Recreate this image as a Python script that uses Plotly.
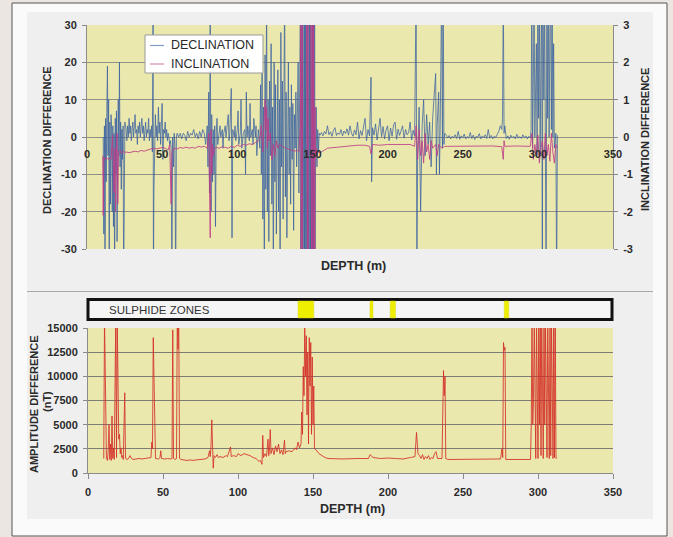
import plotly.graph_objects as go

W, H = 673, 537

# ---------------- data ----------------
# declination difference (depth m, value) - left axis
DECLINATION = [
    (10.8, 0), (11.2, -26), (11.6, 3), (12.0, -40), (12.4, 5), (12.8, -12), (13.2, 8), (13.6, 19),
    (14.0, -5), (14.4, 10), (14.8, -40), (15.2, 4), (15.6, -18), (16.0, 6), (16.4, 2), (16.8, -20),
    (17.2, 3), (17.6, -24), (18.0, 1), (18.4, -40), (18.8, 5), (19.2, -10), (19.6, 7), (20.0, -28),
    (20.4, 2), (20.8, 10), (21.2, -5), (21.6, 20), (22.0, -8), (22.4, 4), (22.8, -14), (23.2, 2),
    (23.6, -6), (24.0, 3), (24.4, -40), (24.8, 1), (25.2, 4),
    (26, 2), (26.5, -1), (27, 3), (27.5, 0), (28, 5), (28.5, 1), (29, 3), (29.5, -1), (30, 2),
    (30.5, 4), (31, 0), (31.5, 3), (32, 6), (32.5, 1), (33, 2), (33.5, -2), (34, 3), (34.5, 1),
    (35, 4), (35.5, 0), (36, 2), (36.5, 5), (37, 1), (37.5, 3), (38, -1), (38.5, 2), (39, 4),
    (39.5, 0), (40, 2), (40.5, 1), (41, 5), (41.5, -1), (42, 2), (42.5, 0), (43, 3), (43.5, -4),
    (44, 40), (44.2, -40), (44.5, -15), (45, 2), (45.5, 6), (46, 0), (46.5, 3), (47, -1), (47.5, 8),
    (48, 1), (48.5, 4), (49, -2), (49.5, 3), (50, 9), (50.5, -6), (51, 2), (51.5, 1), (52, 4),
    (52.5, 0), (53, 2), (53.5, -1), (54, 1), (54.5, 0), (55, -2), (55.5, -1), (56, -3), (56.5, -40),
    (57, 0), (57.5, -8), (58, 1), (58.5, -2), (59, -40), (59.5, 0), (60, 1),
    (61, 0), (62, 1), (63, -0.5), (64, 1), (65, 0.5), (66, -1), (67, 1.5), (68, 0), (69, 1),
    (70, 0.5), (71, 2), (72, 0), (73, 1), (74, -0.5), (75, 1.5), (76, 0), (77, 2), (78, 1),
    (79, -2), (80, 3), (80.5, -8), (81, 12), (81.5, -15), (82, 40), (82.3, -5), (82.6, -20),
    (83, 6), (83.5, -12), (84, 2), (84.5, -10), (85, 3), (85.5, -24), (86, 1), (86.5, 5), (87, -2),
    (88, 1), (88.5, 3), (89, 0), (90, 2), (90.5, -3), (91, 1), (92, 3), (92.5, 0), (93, 2),
    (94, 6), (94.5, -1), (95, 1), (96, 13), (96.5, -27), (97, 2), (98, 0), (98.5, 3), (99, -1),
    (100, 2), (100.5, 7), (101, -2), (102, 1), (102.5, 10), (103, -3), (104, 1), (105, 2),
    (105.5, -10), (106, 12), (106.5, 0), (107, 3), (108, -1), (108.5, 9), (109, 0), (110, 2),
    (110.5, -2), (111, 5), (112, 0), (112.5, 3), (113, -5), (113.5, 1), (114, 2), (115, -3),
    (115.5, 14), (116, -10), (116.5, 18), (117, -22), (117.5, 8), (118, -40), (118.5, 22),
    (119, -14), (119.5, 40), (120, -20), (120.5, 10), (121, -28), (121.5, 15), (122, -5),
    (122.5, 25), (123, -18), (123.5, 8), (124, -40), (124.5, 20), (125, -12), (125.5, 14),
    (126, -26), (126.5, 6), (127, 18), (127.5, -20), (128, 10), (128.5, -40), (129, 28),
    (129.5, -8), (130, 15), (130.5, -22), (131, 5), (131.5, 40), (132, -16), (132.5, 12),
    (133, -27), (133.5, 4), (134, 20), (134.5, -10), (135, 8), (135.5, -18), (136, 14),
    (136.5, -6), (137, 9), (137.5, -25), (138, 6), (138.5, -3), (139, 12), (139.5, -8), (140, 4),
    (140.5, 20), (141, -15), (141.5, 10),
    (142.0, 40), (142.25, -40), (142.5, 40), (142.75, -40), (143.0, 40), (143.25, -40),
    (143.5, 40), (143.75, -40), (144.0, 40), (144.25, -40), (144.5, 40), (144.75, -40),
    (145.0, 40), (145.25, -40), (145.5, 40), (145.75, -40), (146.0, 40), (146.25, -40),
    (146.5, 40), (146.75, -40), (147.0, 40), (147.25, -40), (147.5, 40), (147.75, -40),
    (148.0, 40), (148.25, -40), (148.5, 40), (148.75, -40), (149.0, 40), (149.25, -40),
    (149.5, 40), (149.75, -40), (150.0, 40), (150.25, -40), (150.5, 40), (150.75, -40),
    (151.0, 40), (151.25, -40), (151.5, 40), (151.75, -40),
    (152, -10), (152.5, 8), (153, -8), (153.5, 2), (154, -4), (154.5, 1),
    (155, 0.5), (156, 1.2), (157, 0.3), (158, 1.5), (159, 0.8), (160, 3.0), (161, 0.6), (162, 1.4),
    (163, 0.2), (164, 1.8), (165, 2.5), (166, 0.4), (167, 1.1), (168, 0.7), (169, 2.0), (170, 0.3),
    (171, 1.6), (172, 0.9), (173, 2.2), (174, 0.5), (175, 3.0), (176, 1.0), (177, 0.2), (178, 1.9),
    (179, 0.6), (180, 4.0), (181, -0.5), (182, 1.7), (183, 0.4), (184, 2.6), (185, 5.0), (186, -1.0),
    (187, 2.0), (188, 0.3), (189, 16), (189.4, -12), (190, 2.5), (191, 0.5), (192, 3.5), (193, -0.8),
    (194, 2.2), (195, 5.0), (196, 0.1), (197, 2.8), (198, -0.5), (199, 1.9), (200, 3.0), (201, -1.0),
    (202, 2.4), (203, 0.2), (204, 3.2), (205, 4.0), (206, -0.6), (207, 2.1), (208, 0.4), (209, 1.5),
    (210, 3.0), (211, -0.3), (212, 2.0), (213, 0.6), (214, 1.2), (215, 4.0), (216, -0.8), (217, 1.8),
    (218, 0.2), (219, 40), (219.5, -40), (220, -5), (221, 8), (222, -20), (223, 3), (224, 10),
    (225, -5), (226, 6), (227, -2), (228, 4), (229, -8), (230, 5), (231, 10), (232, 17),
    (232.5, -10), (233, 3), (234, 12), (234.5, -10), (235, 2), (236, 40), (236.5, -3), (237, 40),
    (237.5, -2), (238, 1), (239, 0.5), (240, -0.3), (241, 0.4), (242, -0.5), (243, 0.2),
    (244, -0.2), (245, 0.6), (246, -0.4), (247, 1.5), (248, -0.6), (249, 0.3), (250, -0.2),
    (251, 0.8), (252, -0.5), (253, 0.1), (254, -0.3), (255, 1.2), (256, -0.4), (257, 0.5),
    (258, -0.7), (259, 0.2), (260, -0.1), (261, 0.9), (262, -0.5), (263, 0.3), (264, -0.2),
    (265, 0.6), (266, -0.4), (267, 2.0), (268, -0.3), (269, 0.4), (270, -0.5), (271, 0.2),
    (272, -0.1), (273, 0.7), (274, 1.5), (275, 3.0), (276, 2), (276.5, 5), (277, 40), (277.5, 1),
    (278, 3), (279, -0.4), (280, 0.3), (281, -0.6), (282, 0.5), (283, -0.2), (284, 0.2),
    (285, -0.5), (286, 0.7), (287, -0.3), (288, 0.1), (289, -0.4), (290, 0.6), (291, -0.2),
    (292, 0.3), (293, -0.5), (294, 0.2), (295, -0.3),
    (295.5, 2), (296, 40), (296.5, -3), (297, 15), (297.5, 40), (298, 0), (299, 25), (299.5, -5),
    (300, 40), (300.5, 5), (301, 40), (301.5, -5), (302, 20), (302.5, 40), (303, -40), (303.3, 40),
    (304, 10), (304.5, 40), (305, -2), (305.5, -40), (306, 40), (306.5, 5), (307, 40), (307.5, 0),
    (308, 28), (308.5, 40), (309, 2), (309.5, 40), (310, 0), (310.5, 25), (311, -3), (311.5, 0),
    (312, 1), (312.5, -40), (313, 0.5),
]

# inclination difference (depth m, value) - right axis; None marks a gap
INCLINATION = [
    (10.5, -0.5), (10.8, -2.1), (11.2, -0.55), (12, -0.6), (13, -0.55), (14, -0.6), (15, -0.58),
    (16, -0.6), (17, 0.05), (17.5, -0.6), (18, -1.5), (18.5, -0.3), (19, -2.0), (19.5, -0.4),
    (20, 0.1), (20.5, -1.8), (21, -0.4), (22, -0.35), (23, -0.45), (24, -0.38), (25, -0.42),
    (26, -0.4), (28, -0.42), (30, -0.4), (32, -0.38), (34, -0.4), (36, -0.36), (38, -0.38),
    (40, -0.35), (42, -0.33), (44, -0.3), (46, -0.32), (48, -0.3), (50, -0.28), (52, -0.3),
    (54, -0.35), (55, -0.2), (55.5, -0.8), (56, -1.8), (56.5, -0.4), (57, -0.35), (58, -0.3),
    (60, -0.32), (62, -0.28), (64, -0.3), (66, -0.27), (68, -0.3), (70, -0.28), (72, -0.3),
    (74, -0.25), (76, -0.27), (78, -0.25), (80, -0.3), (81, 0.1), (81.5, -1.2), (82, -2.7),
    (82.5, 0.2), (83, -1.0), (83.5, -0.2), (84, -0.5), (85, -0.3), (86, -0.28), (88, -0.3),
    (90, -0.26), (92, -0.28), (94, -0.3), (96, -0.25), (98, -0.28), (100, -0.22), (102, -0.25),
    (104, -0.2), (106, -0.22), (108, -0.18), (110, -0.2), (112, -0.15), (114, -0.1), (115, -0.05),
    (116, 0.3), (117, -0.4), (118, 0.6), (118.5, 1.0), (119, 0.2), (119.5, 0.8), (120, -0.3),
    (120.5, 0.5), (121, -0.1), (122, 0.1), (123, -0.6), (124, -0.2), (125, -0.5), (126, -0.1),
    (127, -0.3), (128, -0.2), (130, -0.25), (132, -0.3), (134, -0.32), (136, -0.35), (138, -0.38),
    (140, -0.36), (141, -0.4), (142, 0.3),
    (142.25, 4), (142.5, -4), (142.75, 4), (143.0, -4), (143.25, 4), (143.5, -4),
    (143.6, None),
    (146.0, 4), (146.25, -4), (146.5, 4), (146.75, -4), (147.0, 4), (147.25, -4),
    (147.4, None),
    (148.75, 4), (149.0, -4), (149.25, 4), (149.5, -4), (149.75, 4), (150.0, -4), (150.25, 4),
    (150.5, -4), (150.75, 4), (151.0, -4), (151.25, 4), (151.5, -4),
    (151.75, 0.8), (152, -0.6), (152.5, -0.3), (153, -0.45), (154, -0.42), (156, -0.4),
    (158, -0.35), (160, -0.3), (165, -0.28), (170, -0.25), (175, -0.24), (180, -0.22),
    (185, -0.22), (188, -0.25), (189, -0.45), (190, -0.2), (195, -0.22), (200, -0.2), (205, -0.2),
    (210, -0.22), (215, -0.2), (218, -0.25), (219, 0.3), (220, -0.6), (221, 0.2), (222, -0.5),
    (223, -0.1), (224, -0.7), (225, 0.1), (226, -0.4), (227, -0.2), (228, -0.6), (229, -0.1),
    (230, -0.3), (232, -0.2), (233, -0.5), (234, -0.2), (236, -0.3), (238, -0.25), (240, -0.25),
    (250, -0.24), (260, -0.25), (270, -0.24), (276, -0.26), (277, -0.6), (277.5, -0.1),
    (278, -0.25), (285, -0.24), (295, -0.25), (296, 0.1), (297, -0.6), (298, -0.2), (299, -0.5),
    (300, 0.05), (301, -0.7), (302, -0.3), (303, -0.1), (304, -0.6), (305, 0.1), (306, -0.5),
    (307, -0.2), (308, -0.65), (309, 0.1), (310, -0.4), (311, -0.7), (312, -0.2), (313, -0.3),
]

# amplitude difference (depth m, nT)
AMPLITUDE = [
    (10.5, 1500), (11, 16000), (11.5, 10600), (12, 7000), (12.3, 1500), (13, 1300), (13.5, 2500),
    (14, 5000), (14.5, 1400), (15, 3000), (15.5, 1300), (16, 5900), (16.5, 1500), (17, 2600),
    (17.5, 1400), (18.5, 16000), (19, 1600), (19.5, 16000), (20, 6100), (20.5, 3500), (21, 4000),
    (21.5, 2000), (22, 2600), (22.5, 1600), (23, 1800), (23.5, 1400), (24.5, 8300), (25, 1500),
    (26, 1400), (27, 1500), (28, 1800), (29, 1500), (30, 1400), (32, 1450), (34, 1500), (36, 1450),
    (38, 1500), (40, 1550), (42, 1600), (42.5, 3200), (43, 2500), (43.5, 14000), (44, 8500),
    (44.5, 1700), (45, 1500), (47, 1450), (48, 1600), (48.5, 2300), (49, 1500), (51, 1450),
    (53, 1500), (55, 1450), (56, 1500), (56.5, 14800), (57, 1500), (58, 1400), (59, 1500),
    (59.5, 16000), (60, 12800), (60.5, 16000), (61, 1500), (62, 1400), (64, 1350), (66, 1300),
    (68, 1350), (70, 1300), (72, 1350), (74, 1400), (76, 1400), (78, 1450), (80, 1600), (81, 2300),
    (81.5, 1700), (82, 2800), (82.5, 5500), (83, 2000), (83.5, 500), (84, 1800), (85, 1600),
    (86, 1900), (87, 1600), (88, 1700), (90, 1600), (92, 1800), (93, 1700), (95, 2700), (95.5, 1700),
    (97, 1800), (99, 1700), (100, 2000), (102, 1800), (104, 2000), (106, 1900), (108, 1800),
    (110, 1600), (112, 1500), (114, 1200), (115, 1300), (116, 900), (116.5, 3900), (117, 1600),
    (118, 2000), (119, 1700), (120, 3500), (120.5, 1800), (121, 2500), (121.5, 4500), (122, 2000),
    (123, 2600), (124, 1900), (125, 2800), (126, 2200), (127, 3000), (128, 2000), (129, 2400),
    (130, 1900), (131, 3400), (131.5, 2000), (132, 2200), (134, 2300), (136, 2200), (138, 2600),
    (139, 2400), (140, 3200), (141, 2600), (142, 3000), (142.5, 6300), (143, 4000), (143.5, 11000),
    (144, 8000), (144.5, 15000), (145, 10000), (145.5, 14200), (146, 6000), (146.5, 12500),
    (147, 3000), (147.5, 14000), (148, 9000), (148.5, 13500), (149, 4000), (149.5, 12000),
    (150, 5000), (150.5, 9000), (151, 2500), (152, 2400), (154, 2000), (156, 1800), (158, 1600),
    (160, 1500), (170, 1450), (180, 1500), (187, 1500), (188, 1900), (189, 1700), (190, 1600),
    (195, 1500), (200, 1550), (205, 1500), (210, 1450), (215, 1600), (218, 1700), (219, 4200),
    (219.5, 2600), (220, 2000), (221, 1800), (222, 1500), (223, 1900), (224, 1400), (225, 1700),
    (226, 1500), (227, 1800), (228, 1400), (229, 1600), (230, 1500), (231, 2000), (232, 2200),
    (233, 1500), (236, 1500), (237, 10600), (237.5, 8000), (238, 10000), (238.5, 1500),
    (240, 1400), (250, 1400), (260, 1400), (270, 1400), (275, 1450), (276, 2500), (276.5, 1600),
    (277, 13500), (277.5, 12700), (278, 13000), (278.5, 1400), (280, 1400), (290, 1400),
    (295, 1400), (295.5, 5000), (296, 16000), (296.5, 5000), (297, 7600), (297.5, 16000),
    (298, 4000), (298.5, 1500), (299, 16000), (299.5, 3500), (300, 1500), (300.5, 16000),
    (301, 5000), (301.5, 16000), (302, 1800), (302.5, 16000), (303, 4300), (303.5, 1500),
    (304, 16000), (304.5, 5000), (305, 16000), (305.5, 4000), (306, 1600), (306.5, 16000),
    (307, 5200), (307.5, 1500), (308, 16000), (308.5, 1800), (309, 16000), (309.5, 5500),
    (310, 1500), (310.5, 16000), (311, 1600), (311.5, 16000), (312, 1500), (312.5, 1600),
]

# sulphide zones (depth from, depth to)
SULPHIDE_ZONES = [(140, 150.5), (188, 190), (201.5, 205), (277.5, 280.5)]

DEPTH_TICKS = [0, 50, 100, 150, 200, 250, 300, 350]
DEC_TICKS = [-30, -20, -10, 0, 10, 20, 30]
INC_TICKS = [-3, -2, -1, 0, 1, 2, 3]
AMP_TICKS = [0, 2500, 5000, 7500, 10000, 12500, 15000]

# ---------------- styling helpers ----------------
def px(x):
    return x / W

def py(y):
    return 1 - y / H

FONT = "Liberation Sans, Arial, sans-serif"
TXT = "#2a2a2a"
GRID = "#8f8f86"
AXL = "#8a8a8a"
YELLOW = "#ebe8ad"
tickfont = dict(family=FONT, size=11, color=TXT, weight="bold")

dec_d = [p[0] for p in DECLINATION]
dec_v = [p[1] for p in DECLINATION]
inc_d = [p[0] for p in INCLINATION]
inc_v = [p[1] for p in INCLINATION]
amp_d = [p[0] for p in AMPLITUDE]
amp_v = [p[1] for p in AMPLITUDE]

fig = go.Figure()
fig.add_trace(go.Scatter(x=dec_d, y=dec_v, mode="lines", name="DECLINATION",
                         line=dict(color="rgba(58,96,160,0.75)", width=1), xaxis="x", yaxis="y",
                         showlegend=False))
fig.add_trace(go.Scatter(x=inc_d, y=inc_v, mode="lines", name="INCLINATION",
                         line=dict(color="rgba(190,60,135,0.85)", width=1), xaxis="x", yaxis="y2",
                         connectgaps=False, showlegend=False))
fig.add_trace(go.Scatter(x=amp_d, y=amp_v, mode="lines", name="AMPLITUDE",
                         line=dict(color="rgba(212,48,40,0.85)", width=1), xaxis="x2", yaxis="y3",
                         showlegend=False))

TOP_X = [px(87), px(613)]
TOP_Y = [py(249), py(25)]
BOT_X = [px(88), px(613)]
BOT_Y = [py(473), py(328)]

shapes = [
    # frame
    dict(type="rect", xref="paper", yref="paper", x0=px(12), x1=px(667), y0=py(536), y1=py(3),
         fillcolor="#fafafa", line=dict(color="#555555", width=1), layer="below"),
    dict(type="rect", xref="paper", yref="paper", x0=px(27), x1=px(653), y0=py(519), y1=py(12),
         fillcolor="#efefef", line=dict(width=0), layer="below"),
    dict(type="line", xref="paper", yref="paper", x0=px(27), x1=px(653), y0=py(291.5), y1=py(291.5),
         line=dict(color="#a8a8a8", width=1), layer="below"),
    # plot backgrounds
    dict(type="rect", xref="paper", yref="paper", x0=TOP_X[0], x1=TOP_X[1], y0=TOP_Y[0], y1=TOP_Y[1],
         fillcolor=YELLOW, line=dict(width=0), layer="below"),
    dict(type="rect", xref="paper", yref="paper", x0=BOT_X[0], x1=BOT_X[1], y0=BOT_Y[0], y1=BOT_Y[1],
         fillcolor=YELLOW, line=dict(width=0), layer="below"),
    # sulphide zone bar
    dict(type="rect", xref="paper", yref="paper", x0=px(88), x1=px(612), y0=py(319.5), y1=py(299.5),
         fillcolor="#f5f5f5", line=dict(color="#111111", width=3), layer="below"),
    # legend box
    dict(type="rect", xref="paper", yref="paper", x0=px(145), x1=px(263), y0=py(73), y1=py(35),
         fillcolor="#ffffff", line=dict(color="#9a9a9a", width=1), layer="above"),
    dict(type="line", xref="paper", yref="paper", x0=px(150), x1=px(164), y0=py(45.5), y1=py(45.5),
         line=dict(color="#7f9cc3", width=1.2), layer="above"),
    dict(type="line", xref="paper", yref="paper", x0=px(150), x1=px(164), y0=py(64), y1=py(64),
         line=dict(color="#d68ab0", width=1.2), layer="above"),
]
for z0, z1 in SULPHIDE_ZONES:
    shapes.append(dict(type="rect", xref="x2", yref="paper", x0=z0, x1=z1,
                       y0=py(318), y1=py(301), fillcolor="#eeee00",
                       line=dict(color="#d8d820", width=0.5), layer="below"))

bold = dict(family=FONT, size=11, color=TXT, weight="bold")
annotations = [
    dict(text="DECLINATION DIFFERENCE", x=px(47), y=py(140), textangle=-90, font=bold),
    dict(text="INCLINATION DIFFERENCE", x=px(645), y=py(140), textangle=-90, font=bold),
    dict(text="DEPTH (m)", x=px(353), y=py(266), font=dict(family=FONT, size=12.5, color=TXT, weight="bold")),
    dict(text="DEPTH (m)", x=px(352), y=py(509), font=dict(family=FONT, size=12.5, color=TXT, weight="bold")),
    dict(text="AMPLITUDE DIFFERENCE", x=px(34), y=py(404), textangle=-90, font=bold),
    dict(text="(nT)", x=px(47), y=py(402), textangle=-90, font=bold),
    dict(text="SULPHIDE ZONES", x=px(107), y=py(309.5), xanchor="left",
         font=dict(family=FONT, size=11.5, color="#333333")),
    dict(text="DECLINATION", x=px(169), y=py(45.5), xanchor="left",
         font=dict(family=FONT, size=12.5, color=TXT)),
    dict(text="INCLINATION", x=px(169), y=py(64), xanchor="left",
         font=dict(family=FONT, size=12.5, color=TXT)),
]
for a in annotations:
    a.update(xref="paper", yref="paper", showarrow=False)
    a.setdefault("xanchor", "center")
    a.setdefault("yanchor", "middle")

def labels(vals):
    return [str(v) for v in vals]

fig.update_layout(
    width=W, height=H, margin=dict(l=0, r=0, t=0, b=0),
    template="none",
    paper_bgcolor="#ece6e2", plot_bgcolor="rgba(0,0,0,0)",
    showlegend=False,
    shapes=shapes, annotations=annotations,
    xaxis=dict(domain=TOP_X, range=[0, 350], tickvals=DEPTH_TICKS, ticktext=labels(DEPTH_TICKS),
               anchor="free", position=py(137), showgrid=False, zeroline=False, showline=False,
               ticks="outside", ticklen=7, tickcolor="rgba(0,0,0,0)", tickfont=tickfont,
               automargin=False),
    yaxis=dict(domain=TOP_Y, range=[-30, 30], tickvals=DEC_TICKS, ticktext=labels(DEC_TICKS),
               anchor="x", showgrid=True, gridcolor=GRID, gridwidth=1, zeroline=True,
               zerolinecolor=GRID, zerolinewidth=1, showline=True, linecolor=AXL, ticks="outside",
               ticklen=4, tickcolor=AXL, tickfont=tickfont, ticklabelstandoff=3, automargin=False),
    yaxis2=dict(range=[-3, 3], tickvals=INC_TICKS, ticktext=labels(INC_TICKS), overlaying="y",
                side="right", anchor="x", showgrid=False, zeroline=False, showline=True,
                linecolor=AXL, ticks="outside", ticklen=4, tickcolor=AXL, tickfont=tickfont,
                ticklabelstandoff=3, automargin=False),
    xaxis2=dict(domain=BOT_X, range=[0, 350], tickvals=DEPTH_TICKS, ticktext=labels(DEPTH_TICKS),
                anchor="y3", showgrid=False, zeroline=False, showline=True, linecolor=AXL,
                ticks="outside", ticklen=5, tickcolor=AXL, tickfont=tickfont, ticklabelstandoff=4,
                automargin=False),
    yaxis3=dict(domain=BOT_Y, range=[0, 15000], tickvals=AMP_TICKS, ticktext=labels(AMP_TICKS),
                anchor="x2", showgrid=True, gridcolor="#7d7d76", gridwidth=1, zeroline=False,
                showline=True, linecolor=AXL, ticks="outside", ticklen=4, tickcolor=AXL,
                tickfont=tickfont, ticklabelstandoff=3, automargin=False),
)

fig.write_html("out.html")
